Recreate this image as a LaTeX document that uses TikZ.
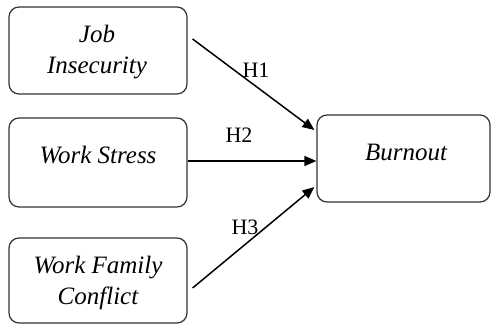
\documentclass[tikz,border=0pt]{standalone}
\usepackage{fontspec}
\setmainfont{Liberation Serif}
\usetikzlibrary{arrows.meta}
\begin{document}
\begin{tikzpicture}[x=1pt,y=-1pt,
  box/.style={draw=black!80,line width=1.2pt,rounded corners=10pt,inner sep=0pt},
  lbl/.style={font=\fontsize{25}{31}\selectfont\itshape,align=center,inner sep=0pt},
  hyp/.style={font=\fontsize{22}{26}\selectfont,inner sep=0pt},
  link/.style={line width=1.5pt,-{Triangle[length=12pt,width=10pt]}}]
\useasboundingbox (0,0) rectangle (491,324);
\node[box,minimum width=178pt,minimum height=87pt] (b1) at (98,50.5) {};
\node[box,minimum width=178pt,minimum height=89pt] (b2) at (98,162.5) {};
\node[box,minimum width=178pt,minimum height=85pt] (b3) at (98,280.5) {};
\node[box,minimum width=173pt,minimum height=87pt] (bo) at (403.5,158.5) {};
\node[lbl] (t1) at (97,52) {Job\\Insecurity};
\node[lbl] (t2) at (98,155) {Work Stress};
\node[lbl] (t3) at (98,283) {Work Family\\Conflict};
\node[lbl] (t4) at (406,152) {Burnout};
\draw[link] ([shift={(5,-11.5)}]b1.east) -- ([shift={(-2,-28.5)}]bo.west);
\draw[link] ([shift={(0,-1.5)}]b2.east) -- ([shift={(0,2.5)}]bo.west);
\draw[link] ([shift={(5,7.5)}]b3.east) -- ([shift={(-2,28.5)}]bo.west);
\node[hyp] (h1) at (256,70) {H1};
\node[hyp] (h2) at (239,135) {H2};
\node[hyp] (h3) at (245,227) {H3};
\end{tikzpicture}
\end{document}
